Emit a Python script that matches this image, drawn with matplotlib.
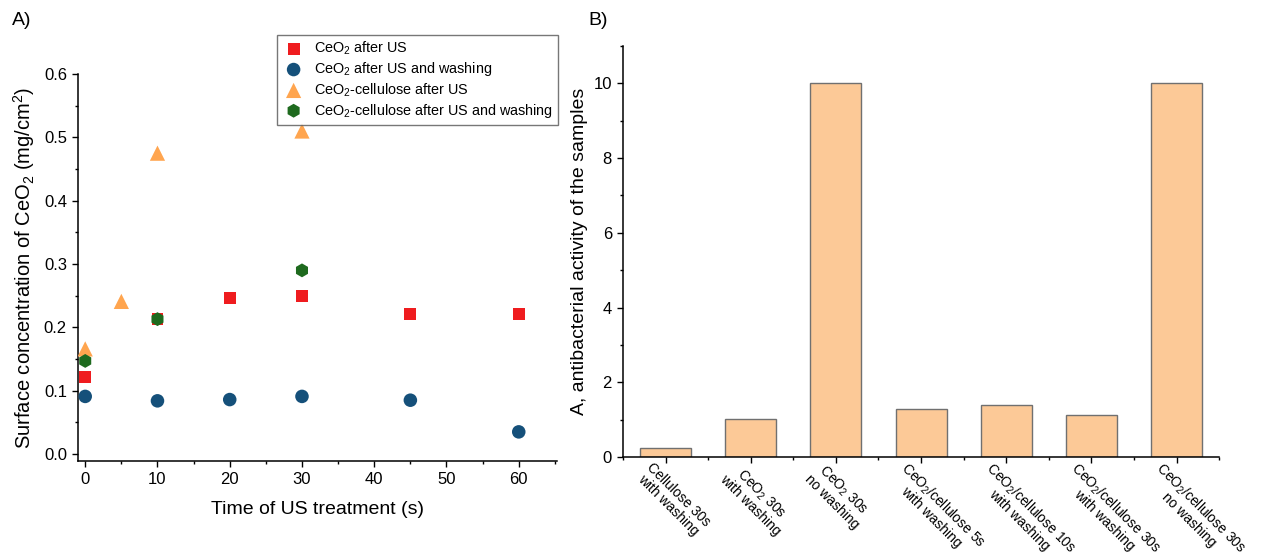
import matplotlib
matplotlib.use('Agg')
import matplotlib.pyplot as plt
import matplotlib.transforms as mtransforms
from matplotlib.ticker import MultipleLocator, FixedLocator, FormatStrFormatter
import numpy as np

plt.rcParams['font.family'] = ['Liberation Sans', 'DejaVu Sans']
plt.rcParams['mathtext.fontset'] = 'custom'
plt.rcParams['mathtext.rm'] = 'Liberation Sans'
plt.rcParams['mathtext.it'] = 'Liberation Sans:italic'
plt.rcParams['mathtext.default'] = 'regular'

# Панель A: поверхностная концентрация CeO2
t_ceo2_us = [0, 10, 20, 30, 45, 60]
c_ceo2_us = [0.122, 0.213, 0.246, 0.250, 0.221, 0.221]

t_ceo2_wash = [0, 10, 20, 30, 45, 60]
c_ceo2_wash = [0.091, 0.084, 0.086, 0.091, 0.085, 0.035]

t_cell_us = [0, 5, 10, 30]
c_cell_us = [0.166, 0.241, 0.475, 0.510]

t_cell_wash = [0, 10, 30]
c_cell_wash = [0.147, 0.213, 0.290]

# Панель B: антибактериальная активность
samples = ['Cellulose 30s\nwith washing',
           'CeO$_2$ 30s\nwith washing',
           'CeO$_2$ 30s\nno washing',
           'CeO$_2$/cellulose 5s\nwith washing',
           'CeO$_2$/cellulose 10s\nwith washing',
           'CeO$_2$/cellulose 30s\nwith washing',
           'CeO$_2$/cellulose 30s\nno washing']
activity = [0.24, 1.01, 10.0, 1.28, 1.39, 1.12, 10.0]

fig = plt.figure(figsize=(12.62, 5.59), dpi=100)

# ---------- A ----------
ax1 = fig.add_axes([0.0618, 0.1753, 0.3796, 0.6923])
ax1.scatter(t_ceo2_us, c_ceo2_us, marker='s', s=72, color='#EF1C1F',
            edgecolors='none', label='CeO$_2$ after US', zorder=3)
ax1.scatter(t_ceo2_wash, c_ceo2_wash, marker='o', s=95, color='#15507A',
            edgecolors='none', label='CeO$_2$ after US and washing', zorder=3)
ax1.scatter(t_cell_us, c_cell_us, marker='^', s=120, color='#FFA54F',
            edgecolors='none', label='CeO$_2$-cellulose after US', zorder=3)
ax1.scatter(t_cell_wash, c_cell_wash, marker='h', s=100, color='#1E6A1E',
            edgecolors='none', label='CeO$_2$-cellulose after US and washing', zorder=4)

ax1.set_xlim(-1, 65.3)
ax1.set_ylim(-0.011, 0.6)
ax1.xaxis.set_major_locator(MultipleLocator(10))
ax1.xaxis.set_minor_locator(MultipleLocator(5))
ax1.yaxis.set_major_locator(MultipleLocator(0.1))
ax1.yaxis.set_minor_locator(MultipleLocator(0.05))
ax1.yaxis.set_major_formatter(FormatStrFormatter('%.1f'))
ax1.set_xlabel('Time of US treatment (s)', fontsize=14, labelpad=10)
ax1.set_ylabel('Surface concentration of CeO$_2$ (mg/cm$^2$)', fontsize=14.5, labelpad=5)

leg = ax1.legend(loc='upper left', bbox_to_anchor=(277 / 1262, 1 - 35 / 559),
                 bbox_transform=fig.transFigure, fontsize=10.4, frameon=True,
                 fancybox=False, labelspacing=0.2, handletextpad=0.6,
                 borderpad=0.35, handlelength=1.6, borderaxespad=0, scatterpoints=1)
leg.get_frame().set_edgecolor('#555555')
leg.get_frame().set_linewidth(1.0)

# ---------- B ----------
ax2 = fig.add_axes([0.4937, 0.1825, 0.4723, 0.7352])
xpos = np.arange(len(samples))
ax2.bar(xpos, activity, width=0.6, color='#FCC997', edgecolor='#707070', linewidth=1.0)
ax2.set_xlim(-0.5, 6.5)
ax2.set_ylim(0, 11)
ax2.yaxis.set_major_locator(MultipleLocator(2))
ax2.yaxis.set_minor_locator(MultipleLocator(1))
ax2.set_xticks(xpos)
ax2.set_xticklabels([])
ax2.xaxis.set_minor_locator(FixedLocator(np.arange(-0.5, 7, 1)))

# Подписи под столбцами, повернутые на -45 градусов
base = mtransforms.blended_transform_factory(ax2.transData, ax2.transAxes)
offset = mtransforms.ScaledTranslation(-12 / 100, -3 / 100, fig.dpi_scale_trans)
for xi, name in zip(xpos, samples):
    ax2.text(xi, 0, name, transform=base + offset, rotation=-45,
             ha='left', va='top', rotation_mode='anchor', fontsize=10,
             linespacing=1.05, multialignment='center', clip_on=False)

ax2.set_ylabel('A, antibacterial activity of the samples', fontsize=14, labelpad=4)

for ax in (ax1, ax2):
    ax.spines['top'].set_visible(False)
    ax.spines['right'].set_visible(False)
    for sp in ('left', 'bottom'):
        ax.spines[sp].set_linewidth(1.1)
    ax.tick_params(which='major', direction='out', length=4.5, width=1.0, labelsize=12)
    ax.tick_params(which='minor', direction='out', length=2.5, width=1.0)

fig.text(12 / 1262, 1 - 12 / 559, 'A)', fontsize=14, ha='left', va='top')
fig.text(588 / 1262, 1 - 12 / 559, 'B)', fontsize=14, ha='left', va='top')

plt.savefig('out.png', dpi=100)
